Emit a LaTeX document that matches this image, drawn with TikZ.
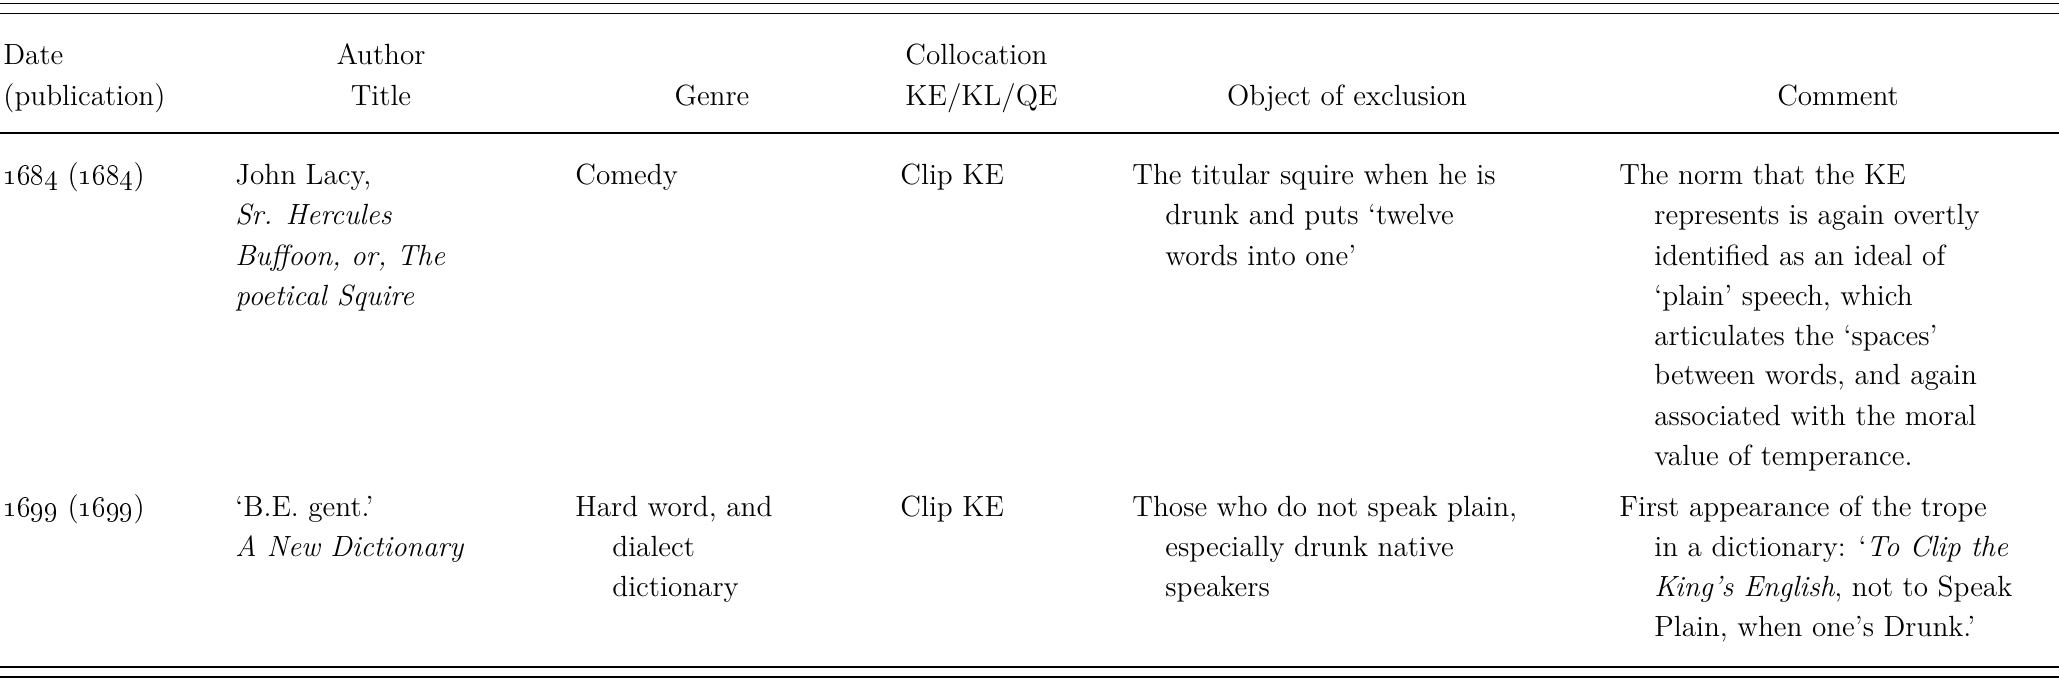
\documentclass[tikz,border=0pt]{standalone}
\usepackage{tikz}
\newcommand{\tabCell}[2]{\vtop{\hsize=320pt\raggedright\let\\\newline\leavevmode\hangindent=#1\hangafter=1\relax #2\par}}
\begin{document}
\begin{tikzpicture}[x=0.5pt,y=-0.5pt,
	every node/.style={inner sep=0pt,font=\fontsize{14.6}{20}\selectfont},
	cellText/.style={anchor=base west},
	headText/.style={anchor=base},
	tableRule/.style={line width=0.65pt}]
		\useasboundingbox (0,0) rectangle (2059,679);
		% rules
		\draw[tableRule] (0,3.5) -- (2059,3.5);
		\draw[tableRule] (0,13.5) -- (2059,13.5);
		\draw[tableRule] (0,133) -- (2059,133);
		\draw[tableRule] (0,667) -- (2059,667);
		\draw[tableRule] (0,677) -- (2059,677);
		% header
		\node[cellText] (hDate) at (3,65) {Date};
		\node[cellText] (hPub) at (3,106) {(publication)};
		\node[headText] (hAuthor) at (381,65) {Author};
		\node[headText] (hTitle) at (381,106) {Title};
		\node[headText] (hGenre) at (712,106) {Genre};
		\node[cellText] (hColl) at (905,65) {Collocation};
		\node[cellText] (hKE) at (905,106) {KE/KL/QE};
		\node[headText] (hObject) at (1347,106) {Object of exclusion};
		\node[headText] (hComment) at (1838,106) {Comment};
		% first row
		\node[cellText] (dateA) at (3,185) {\oldstylenums{1684} (\oldstylenums{1684})};
		\node[cellText] (authorA) at (235,185) {\tabCell{0pt}{John Lacy,\\ \textit{Sr. Hercules}\\ \textit{Buffoon, or, The}\\ \textit{poetical Squire}}};
		\node[cellText] (genreA) at (575,185) {Comedy};
		\node[cellText] (collA) at (900,185) {Clip KE};
		\node[cellText] (objectA) at (1132,185) {\tabCell{16.5pt}{The titular squire when he is\\ drunk and puts `twelve\\ words into one'}};
		\node[cellText] (commentA) at (1619,185) {\tabCell{17.5pt}{The norm that the KE\\ represents is again overtly\\ identified as an ideal of\\ `plain' speech, which\\ articulates the `spaces'\\ between words, and again\\ associated with the moral\\ value of temperance.}};
		% second row
		\node[cellText] (dateB) at (3,516) {\oldstylenums{1699} (\oldstylenums{1699})};
		\node[cellText] (authorB) at (235,516) {\tabCell{0pt}{`B.E. gent.'\\ \textit{A New Dictionary}}};
		\node[cellText] (genreB) at (575,516) {\tabCell{18.5pt}{Hard word, and\\ dialect\\ dictionary}};
		\node[cellText] (collB) at (900,516) {Clip KE};
		\node[cellText] (objectB) at (1132,516) {\tabCell{16.5pt}{Those who do not speak plain,\\ especially drunk native\\ speakers}};
		\node[cellText] (commentB) at (1619,516) {\tabCell{17.5pt}{First appearance of the trope\\ in a dictionary: `\textit{To Clip the}\\ \textit{King's English}, not to Speak\\ Plain, when one's Drunk.'}};
\end{tikzpicture}
\end{document}
